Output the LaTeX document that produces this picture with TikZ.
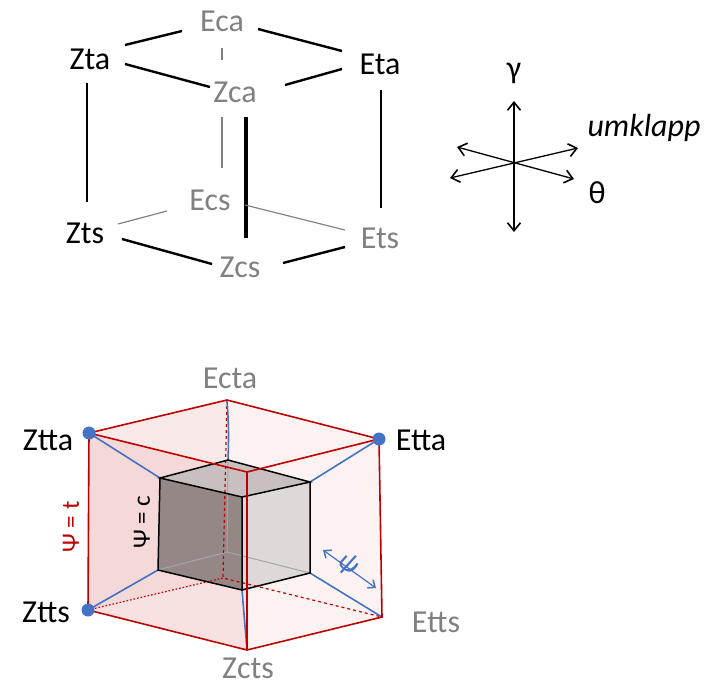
\documentclass[tikz,border=0pt]{standalone}
\usepackage{fontspec}
\setmainfont{Carlito}
\usetikzlibrary{arrows.meta}
\definecolor{lg}{RGB}{128,128,128}
\definecolor{rd}{RGB}{192,0,0}
\definecolor{bl}{RGB}{68,114,196}
\definecolor{dk}{RGB}{150,135,135}
\definecolor{md}{RGB}{200,192,192}
\definecolor{lt}{RGB}{222,216,216}
\begin{document}
\begin{tikzpicture}[x=1pt,y=-1pt,
 lab/.style={font=\fontsize{32}{32}\selectfont,inner sep=0pt},
 glab/.style={lab,text=lg},
 thk/.style={line width=2.4pt},
 thn/.style={line width=1.2pt,lg},
 ax/.style={line width=1.3pt,{Straight Barb[length=8pt,width=13pt,line width=1.6pt]}-{Straight Barb[length=8pt,width=13pt,line width=1.6pt]}},
 red/.style={rd,line width=1.6pt},
 blu/.style={bl,line width=1.6pt},
 inner/.style={black,line width=1.5pt},
 dot/.style={circle,fill=bl,inner sep=0pt,minimum size=13pt}]
\useasboundingbox (0,0) rectangle (727,691);
% top cube
\node[glab] (Eca) at (222,21) {Eca};
\node[lab] (Zta) at (90,59) {Zta};
\node[lab] (Eta) at (380,64) {Eta};
\node[glab] (Zca) at (235,92) {Zca};
\node[glab] (Ecs) at (210,200) {Ecs};
\node[lab] (Zts) at (85,233) {Zts};
\node[glab] (Ets) at (380,238) {Ets};
\node[glab] (Zcs) at (240,267) {Zcs};
\coordinate (a1) at (125,45); \coordinate (a2) at (182,31);
\draw[thk] (a1) -- (a2);
\coordinate (a1) at (258,29); \coordinate (a2) at (342,51);
\draw[thk] (a1) -- (a2);
\coordinate (a1) at (125,64); \coordinate (a2) at (210,87);
\draw[thk] (a1) -- (a2);
\coordinate (a1) at (285,85); \coordinate (a2) at (342,69);
\draw[thk] (a1) -- (a2);
\coordinate (a1) at (222,48); \coordinate (a2) at (222,60);
\draw[thn] (a1) -- (a2);
\coordinate (a1) at (87,83); \coordinate (a2) at (87,202);
\draw[line width=1.8pt] (a1) -- (a2);
\coordinate (a1) at (381,90); \coordinate (a2) at (381,208);
\draw[thk] (a1) -- (a2);
\coordinate (a1) at (246,117); \coordinate (a2) at (246,238);
\draw[line width=3.2pt] (a1) -- (a2);
\coordinate (a1) at (222,117); \coordinate (a2) at (222,168);
\draw[thn] (a1) -- (a2);
\coordinate (a1) at (118,224); \coordinate (a2) at (167,211);
\draw[thn] (a1) -- (a2);
\coordinate (a1) at (245,205); \coordinate (a2) at (345,230);
\draw[thn] (a1) -- (a2);
\coordinate (a1) at (122,239); \coordinate (a2) at (212,264);
\draw[thk] (a1) -- (a2);
\coordinate (a1) at (283,263); \coordinate (a2) at (345,247);
\draw[thk] (a1) -- (a2);
% axes
\coordinate (v1) at (514,101); \coordinate (v2) at (514,232);
\draw[ax] (v1) -- (v2);
\coordinate (u1) at (450,178); \coordinate (u2) at (578,148);
\draw[ax] (u1) -- (u2);
\coordinate (t1) at (457,147); \coordinate (t2) at (574,179);
\draw[ax] (t1) -- (t2);
\node[lab] (gam) at (514,73) {γ};
\node[lab,font=\fontsize{32}{32}\selectfont\itshape] (umk) at (644,128) {umklapp};
\node[lab] (th) at (597,193) {θ};
% bottom cube
\coordinate (Ztta) at (89,433); \coordinate (Ecta) at (227,400);
\coordinate (Etta) at (379,439); \coordinate (F) at (247,472);
\coordinate (Ztts) at (88,610); \coordinate (B) at (223,578);
\coordinate (Etts) at (382,617); \coordinate (Zcts) at (247,650);
\fill[rd,opacity=0.05] (Ztta) -- (Ecta) -- (Etta) -- (Etts) -- (Zcts) -- (Ztts) -- cycle;
\fill[rd,opacity=0.07] (Ztta) -- (F) -- (Zcts) -- (Ztts) -- cycle;
\fill[rd,opacity=0.04] (Ztta) -- (Ecta) -- (B) -- (Ztts) -- cycle;
\coordinate (tl) at (160,478); \coordinate (bt) at (228,460);
\coordinate (tr) at (310,482); \coordinate (ft) at (242,497);
\coordinate (bll) at (158,570); \coordinate (fb) at (242,590);
\coordinate (br) at (310,573); \coordinate (bb) at (227,552);
\fill[dk] (tl) -- (ft) -- (fb) -- (bll) -- cycle;
\fill[lt] (ft) -- (tr) -- (br) -- (fb) -- cycle;
\fill[md] (tl) -- (bt) -- (tr) -- (ft) -- cycle;
\draw[black!35,line width=1pt] (bt) -- (bb) (bll) -- (bb) -- (br);
\draw[red,dashed,line width=1.2pt] (Ecta) -- (B) -- (Etts);
\draw[red,dotted,line width=1.2pt] (Ztts) -- (B);
\draw[blu] (Ztta) -- (tl) (Etta) -- (tr) (Ztts) -- (bll) (Etts) -- (br)
 (Zcts) -- (fb) (Ecta) to[bend left=3] (bt);
\draw[inner] (tl) -- (bt) -- (tr) -- (ft) -- cycle (tl) -- (bll) -- (fb) -- (br) -- (tr) (ft) -- (fb);
\draw[red] (Ztta) -- (Ecta) -- (Etta) -- (F) -- cycle (Ztta) -- (Ztts) -- (Zcts) -- (Etts) -- (Etta) (F) -- (Zcts);
\node[dot] (d1) at (Ztta) {};
\node[dot] (d2) at (Etta) {};
\node[dot] (d3) at (Ztts) {};
\node[glab] (lEcta) at (230,378) {Ecta};
\node[lab] (lZtta) at (48,440) {Ztta};
\node[lab] (lEtta) at (421,440) {Etta};
\node[lab] (lZtts) at (46,612) {Ztts};
\node[glab] (lEtts) at (436,622) {Etts};
\node[glab] (lZcts) at (248,668) {Zcts};
\node[lab,rotate=90,font=\fontsize{25}{25}\selectfont] (pc) at (142,522) {Ψ = c};
\node[lab,rotate=90,text=rd,font=\fontsize{25}{25}\selectfont] (pt) at (71,527) {Ψ = t};
\coordinate (p1) at (323,550); \coordinate (p2) at (376,588);
\draw[bl,line width=1.2pt,{Straight Barb[length=6pt,width=10pt,line width=1.5pt]}-{Straight Barb[length=6pt,width=10pt,line width=1.5pt]}] (p1) -- (p2);
\node[lab,text=bl,rotate=-35,font=\fontsize{27}{27}\selectfont\itshape,fill=white,fill opacity=0,text opacity=1] (psi) at (348,564) {ψ};
\end{tikzpicture}
\end{document}
